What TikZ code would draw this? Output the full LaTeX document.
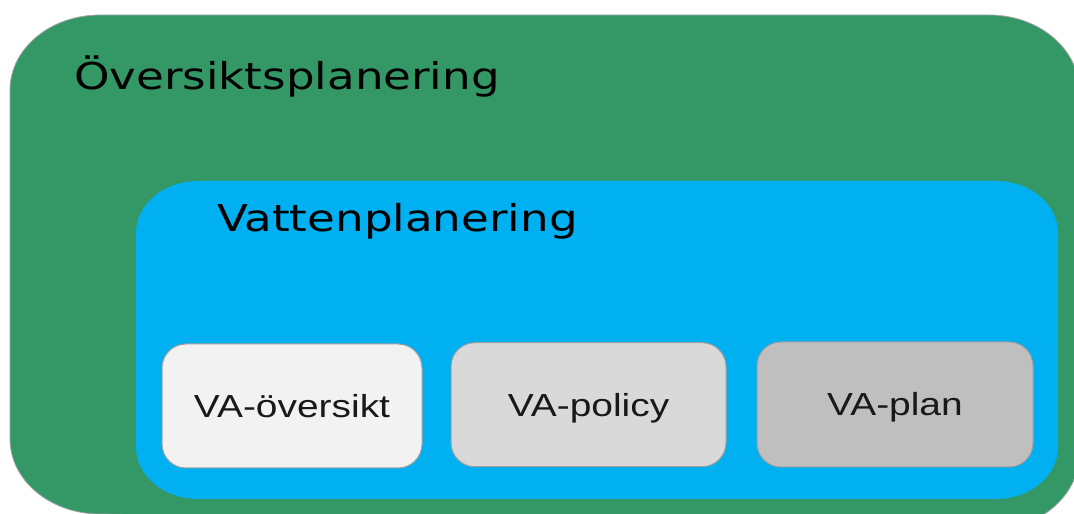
\documentclass[tikz,border=0pt]{standalone}
\usepackage{fontspec}
\newfontfamily\titlefont{DejaVu Sans}
\newfontfamily\boxfont{Liberation Sans}
\definecolor{ovgreen}{HTML}{349866}
\definecolor{vpblue}{HTML}{00B0F0}
\definecolor{boxedge}{HTML}{A0A0A0}
\definecolor{fillA}{HTML}{F2F2F2}
\definecolor{fillB}{HTML}{D9D9D9}
\definecolor{fillC}{HTML}{BFBFBF}
\tikzset{
  titletext/.style={anchor=base west, inner sep=0pt, font=\titlefont\fontsize{37}{44}\selectfont, text=black},
  vabox/.style={draw=boxedge, line width=1pt, rounded corners=24pt, inner sep=0pt,
    text height=22.8pt, text depth=0pt, font=\boxfont\fontsize{31.9}{38}\selectfont, text=black!90},
}
\newcommand{\hstretch}[1]{\scalebox{1.22}[1]{#1}}
\begin{document}
\begin{tikzpicture}[x=1pt,y=1pt]
\useasboundingbox (0,0) rectangle (1074,514);
\clip (0,0) rectangle (1074,514);
% outer green area
\path[fill=ovgreen, draw=black!35, line width=0.8pt]
  (10,424) arc[start angle=180, end angle=90, x radius=90, y radius=75]
  -- (989,499) arc[start angle=90, end angle=0, x radius=90, y radius=75]
  -- (1079,59) arc[start angle=0, end angle=-90, x radius=90, y radius=75]
  -- (100,0) arc[start angle=270, end angle=180, x radius=90, y radius=75]
  -- cycle;
% inner blue area
\path[fill=vpblue]
  (136,281) arc[start angle=180, end angle=90, x radius=62, y radius=52]
  -- (996,333) arc[start angle=90, end angle=0, x radius=62, y radius=52]
  -- (1058,67) arc[start angle=0, end angle=-90, x radius=62, y radius=52]
  -- (198,15) arc[start angle=270, end angle=180, x radius=62, y radius=52]
  -- cycle;
\node[titletext] (t1) at (74,424) {\hstretch{Översiktsplanering}};
\node[titletext] (t2) at (217,282.3) {\hstretch{Vattenplanering}};
\node[vabox, fill=fillA, minimum width=260pt, minimum height=124pt] (b1) at (292,108) {\hstretch{VA-översikt}};
\node[vabox, fill=fillB, minimum width=275pt, minimum height=124pt] (b2) at (588.5,109.3) {\hstretch{VA-policy}};
\node[vabox, fill=fillC, minimum width=276pt, minimum height=125pt] (b3) at (895,109.5) {\hstretch{VA-plan}};
\end{tikzpicture}
\end{document}
